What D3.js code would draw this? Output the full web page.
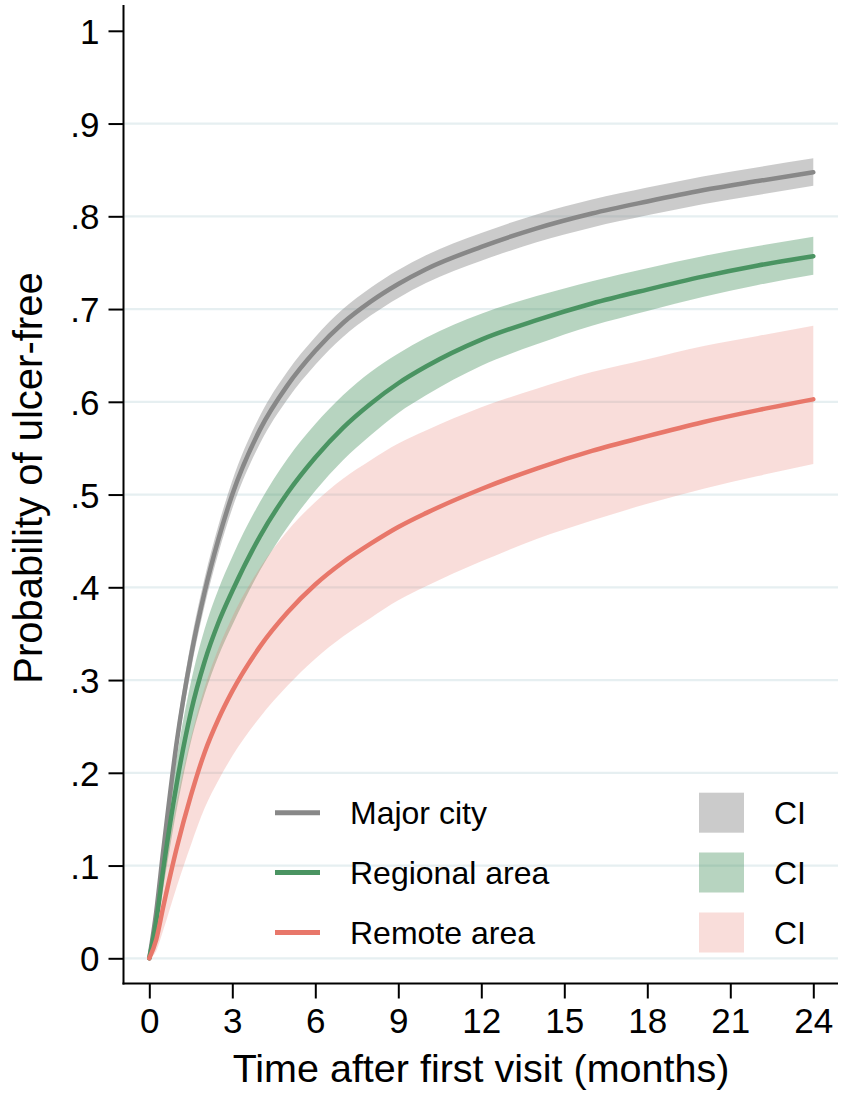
<!DOCTYPE html>
<html>
<head>
<meta charset="utf-8">
<script src="https://cdn.jsdelivr.net/npm/d3@7"></script>
<style>
  html, body { margin: 0; padding: 0; background: #fff; }
  svg { display: block; font-family: "Liberation Sans", Arial, Helvetica, sans-serif; }
</style>
</head>
<body>
<svg id="chart" width="843" height="1098"></svg>
<script>
// ---- Data ----
const months = [0, 0.25, 0.5, 1, 1.5, 2, 2.5, 3, 4, 5, 6, 7, 8, 9, 10, 12, 14, 16, 18, 20, 22, 24];

const majorCity     = [0, 0.05, 0.115, 0.235, 0.325, 0.395, 0.452, 0.50, 0.57, 0.618, 0.655, 0.685, 0.708, 0.727, 0.743, 0.767, 0.787, 0.803, 0.816, 0.828, 0.838, 0.8475];
const majorCityLo   = [0, 0.045, 0.105, 0.222, 0.31, 0.38, 0.437, 0.485, 0.555, 0.603, 0.64, 0.67, 0.693, 0.712, 0.728, 0.752, 0.772, 0.788, 0.801, 0.813, 0.823, 0.833];
const majorCityHi   = [0, 0.055, 0.125, 0.248, 0.34, 0.41, 0.467, 0.515, 0.585, 0.633, 0.67, 0.70, 0.723, 0.742, 0.758, 0.782, 0.802, 0.818, 0.831, 0.843, 0.853, 0.8625];

const regional      = [0, 0.04, 0.095, 0.19, 0.265, 0.32, 0.362, 0.396, 0.455, 0.502, 0.54, 0.572, 0.598, 0.62, 0.638, 0.667, 0.688, 0.706, 0.721, 0.735, 0.747, 0.757];
const regionalLo    = [0, 0.03, 0.075, 0.162, 0.233, 0.285, 0.326, 0.359, 0.418, 0.465, 0.504, 0.537, 0.564, 0.588, 0.607, 0.639, 0.662, 0.682, 0.698, 0.713, 0.726, 0.737];
const regionalHi    = [0, 0.05, 0.115, 0.218, 0.297, 0.355, 0.398, 0.433, 0.492, 0.539, 0.576, 0.607, 0.632, 0.652, 0.669, 0.695, 0.714, 0.730, 0.744, 0.757, 0.768, 0.778];

const remote        = [0, 0.02, 0.055, 0.12, 0.175, 0.222, 0.258, 0.288, 0.336, 0.373, 0.403, 0.427, 0.447, 0.465, 0.48, 0.506, 0.528, 0.547, 0.563, 0.578, 0.591, 0.6027];
const remoteLo      = [0, 0.008, 0.03, 0.078, 0.122, 0.162, 0.192, 0.218, 0.26, 0.294, 0.323, 0.347, 0.367, 0.386, 0.401, 0.428, 0.452, 0.472, 0.49, 0.506, 0.52, 0.533];
const remoteHi      = [0, 0.035, 0.085, 0.17, 0.237, 0.292, 0.334, 0.368, 0.421, 0.461, 0.492, 0.517, 0.537, 0.555, 0.569, 0.594, 0.614, 0.632, 0.646, 0.66, 0.671, 0.682];

const seriesNames = ["Major city", "Regional area", "Remote area"];
const seriesColors = ["#888888", "#4a9462", "#e8776a"];
const bandOpacity = [0.44, 0.40, 0.25];

const xTicks = [0, 3, 6, 9, 12, 15, 18, 21, 24];
const yTicks = [0, 0.1, 0.2, 0.3, 0.4, 0.5, 0.6, 0.7, 0.8, 0.9, 1];
const yTickLabels = ["0", ".1", ".2", ".3", ".4", ".5", ".6", ".7", ".8", ".9", "1"];
const gridValues = [0, 0.1, 0.2, 0.3, 0.4, 0.5, 0.6, 0.7, 0.8, 0.9];

const xTitle = "Time after first visit (months)";
const yTitle = "Probability of ulcer-free";

// ---- Layout ----
const svg = d3.select("#chart");
const axisX = 123.5, axisY = 983.5, plotRight = 838, plotTop = 5;
const x = d3.scaleLinear().domain([0, 24]).range([149.3, 813.3]);
const y = d3.scaleLinear().domain([0, 1]).range([958.3, 30.8]);

// gridlines
svg.append("g").selectAll("line").data(gridValues).join("line")
  .attr("x1", axisX + 1).attr("x2", plotRight)
  .attr("y1", d => y(d)).attr("y2", d => y(d))
  .attr("stroke", "#e6eff1").attr("stroke-width", 2.2);

const series = [
  {mid: majorCity, lo: majorCityLo, hi: majorCityHi},
  {mid: regional, lo: regionalLo, hi: regionalHi},
  {mid: remote, lo: remoteLo, hi: remoteHi}
];

const curve = d3.curveMonotoneX;
const area = d3.area().curve(curve);
const line = d3.line().curve(curve);

// bands
series.forEach((s, i) => {
  svg.append("path")
    .datum(months.map((m, k) => [m, s.lo[k], s.hi[k]]))
    .attr("d", area.x(d => x(d[0])).y0(d => y(d[1])).y1(d => y(d[2])))
    .attr("fill", seriesColors[i]).attr("fill-opacity", bandOpacity[i]);
});
// lines
series.forEach((s, i) => {
  svg.append("path")
    .datum(months.map((m, k) => [m, s.mid[k]]))
    .attr("d", line.x(d => x(d[0])).y(d => y(d[1])))
    .attr("fill", "none").attr("stroke", seriesColors[i])
    .attr("stroke-width", 4.5).attr("stroke-linecap", "round");
});

// axes
const yAxis = d3.axisLeft(y).tickValues(yTicks).tickFormat((d, i) => yTickLabels[i]).tickSize(15).tickPadding(9);
const gy = svg.append("g").attr("transform", `translate(${axisX},0)`).call(yAxis);
gy.select(".domain").remove();
gy.selectAll(".tick line").attr("stroke", "#000").attr("stroke-width", 2);
gy.selectAll(".tick text").attr("font-size", 35).attr("fill", "#000").attr("font-family", "Liberation Sans, Arial, sans-serif").attr("dy", "0.36em");
svg.append("line").attr("x1", axisX).attr("x2", axisX).attr("y1", plotTop).attr("y2", axisY + 1)
  .attr("stroke", "#000").attr("stroke-width", 2);

const xAxis = d3.axisBottom(x).tickValues(xTicks).tickFormat(d3.format("d")).tickSize(15).tickPadding(10);
const gx = svg.append("g").attr("transform", `translate(0,${axisY})`).call(xAxis);
gx.select(".domain").remove();
gx.selectAll(".tick line").attr("stroke", "#000").attr("stroke-width", 2);
gx.selectAll(".tick text").attr("font-size", 35).attr("fill", "#000").attr("font-family", "Liberation Sans, Arial, sans-serif");
svg.append("line").attr("x1", axisX - 1).attr("x2", plotRight).attr("y1", axisY).attr("y2", axisY)
  .attr("stroke", "#000").attr("stroke-width", 2);

// titles
svg.append("text").attr("x", 481).attr("y", 1082).attr("text-anchor", "middle")
  .attr("font-size", 39.5).attr("fill", "#000").text(xTitle);
svg.append("text").attr("transform", "translate(42,478) rotate(-90)").attr("text-anchor", "middle")
  .attr("font-size", 40).attr("fill", "#000").text(yTitle);

// legend
const legY = [812.7, 872.5, 932.5];
seriesNames.forEach((name, i) => {
  svg.append("line").attr("x1", 275).attr("x2", 320).attr("y1", legY[i]).attr("y2", legY[i])
    .attr("stroke", seriesColors[i]).attr("stroke-width", 5);
  svg.append("text").attr("x", 350).attr("y", legY[i] + 11).attr("font-size", 32).attr("fill", "#000").text(name);
  svg.append("rect").attr("x", 699).attr("y", legY[i] - 20).attr("width", 45).attr("height", 40)
    .attr("fill", seriesColors[i]).attr("fill-opacity", bandOpacity[i]);
  svg.append("text").attr("x", 774).attr("y", legY[i] + 11).attr("font-size", 32).attr("fill", "#000").text("CI");
});
</script>
</body>
</html>
